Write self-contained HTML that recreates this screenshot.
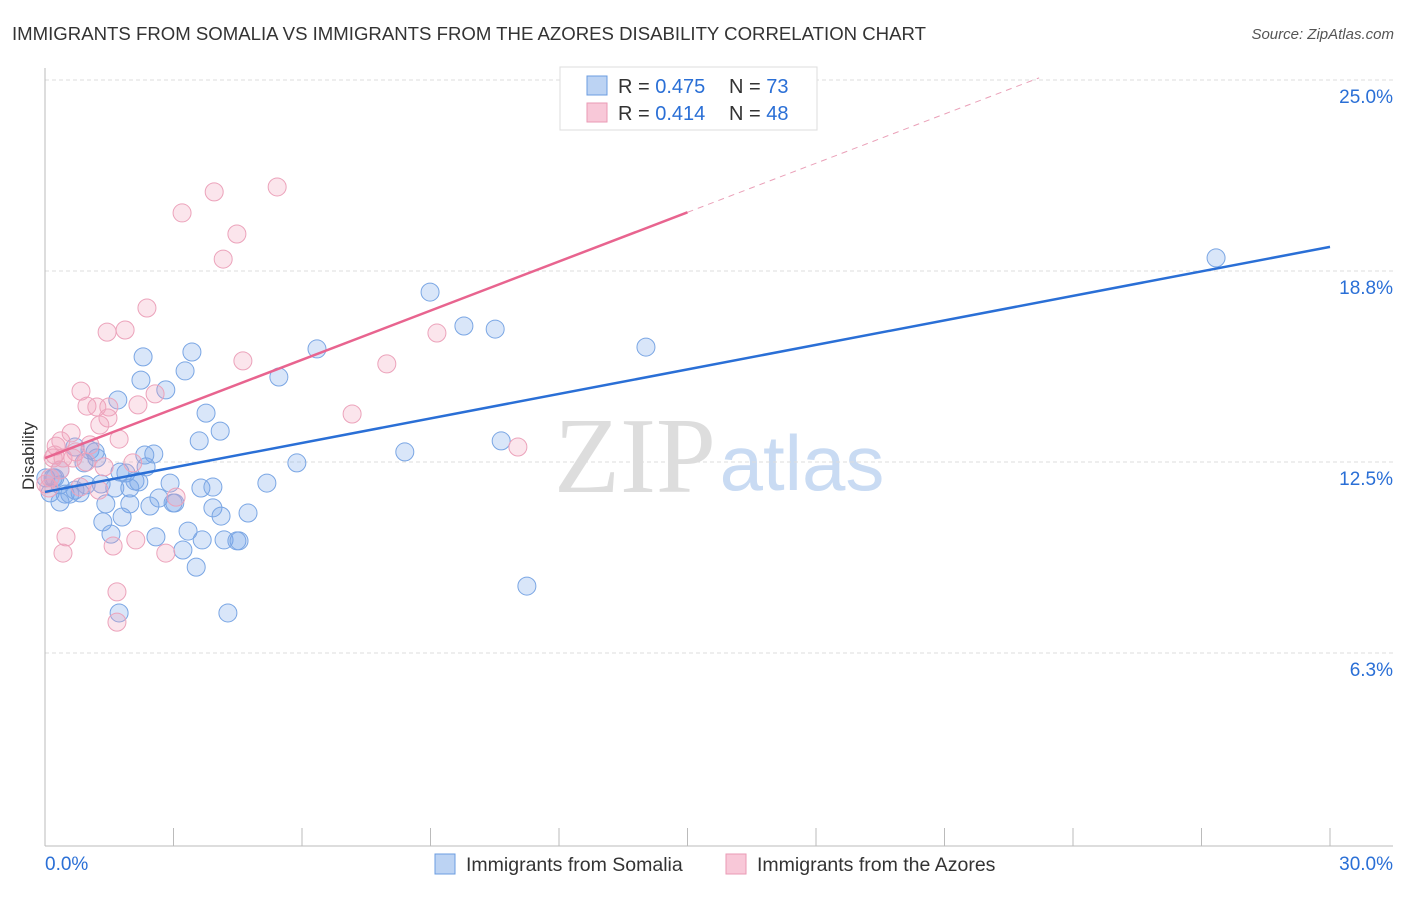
<!DOCTYPE html>
<html><head><meta charset="utf-8">
<style>
body{margin:0;background:#fff;font-family:"Liberation Sans",sans-serif;}
svg text{font-family:"Liberation Sans",sans-serif;}
</style></head>
<body>
<svg id="chart" width="1406" height="892" xmlns="http://www.w3.org/2000/svg">
<text x="12" y="40" font-size="18.6" fill="#333">IMMIGRANTS FROM SOMALIA VS IMMIGRANTS FROM THE AZORES DISABILITY CORRELATION CHART</text>
<text x="1394" y="39" font-size="15" fill="#555" text-anchor="end" font-style="italic">Source: ZipAtlas.com</text>
<text x="635" y="492" font-size="108" fill="#ddd" text-anchor="middle" style="font-family:'Liberation Serif',serif">ZIP</text>
<text x="802" y="490" font-size="78" fill="#c9dbf3" text-anchor="middle">atlas</text>
<g id="grid"></g>
<g id="axes"></g>
<g id="pts"></g>
<g id="trend"></g>
<text x="34" y="456" font-size="17" fill="#333" text-anchor="middle" transform="rotate(-90 34 456)">Disability</text>
<g>
<rect x="560" y="67" width="257" height="63" fill="#fff" stroke="#ddd"/>
<rect x="587" y="76" width="20" height="19" fill="#bcd3f3" stroke="#6b9de0"/>
<rect x="587" y="103" width="20" height="19" fill="#f8c8d8" stroke="#ea9ab5"/>
<text x="618" y="93" font-size="20" fill="#333">R = <tspan fill="#2a6fd6">0.475</tspan></text>
<text x="729" y="93" font-size="20" fill="#333">N = <tspan fill="#2a6fd6">73</tspan></text>
<text x="618" y="120" font-size="20" fill="#333">R = <tspan fill="#2a6fd6"> 0.414</tspan></text>
<text x="729" y="120" font-size="20" fill="#333">N = <tspan fill="#2a6fd6">48</tspan></text>
</g>
<g>
<rect x="435" y="854" width="20" height="20" fill="#bcd3f3" stroke="#6b9de0"/>
<text x="466" y="871" font-size="19.5" fill="#333">Immigrants from Somalia</text>
<rect x="726" y="854" width="20" height="20" fill="#f8c8d8" stroke="#ea9ab5"/>
<text x="757" y="871" font-size="19.5" fill="#333">Immigrants from the Azores</text>
</g>
</svg>
<script>
const yTicks=[25.0,18.8,12.5,6.3];
const yTickVals=[25,18.75,12.5,6.25];
const xTickLabels=["0.0%","30.0%"];
const blueX=[27.34,8.99,9.78,10.51,14.03,6.35,3.43,2.29,3.27,5.46,2.24,2.82,1.70,3.76,4.09,3.60,10.65,8.40,2.54,5.88,0.70,1.17,1.21,0.91,2.36,1.89,5.18,2.92,2.10,2.19,1.31,0.96,0.19,0.35,1.63,1.98,3.64,3.92,2.66,3.03,0.47,0.58,0.82,0.12,0.35,1.42,1.98,2.45,2.99,3.92,4.74,4.11,1.80,1.35,3.34,1.54,2.59,3.67,4.18,4.48,4.53,3.22,3.53,11.25,1.73,4.27,0.02,0.23,0.70,0.35,1.05,1.75,2.33];
const blueY=[19.18,18.06,16.95,16.85,16.26,16.20,16.10,15.94,15.48,15.28,15.18,14.86,14.53,14.10,13.51,13.19,13.19,12.83,12.76,12.47,12.99,12.83,12.63,12.47,12.34,12.14,11.81,11.81,11.88,11.85,11.78,11.75,11.98,11.75,11.65,11.65,11.65,11.68,11.32,11.16,11.45,11.45,11.49,11.49,11.19,11.13,11.13,11.06,11.16,11.00,10.83,10.73,10.70,10.54,10.24,10.14,10.05,9.95,9.95,9.92,9.92,9.62,9.06,8.44,7.56,7.56,11.98,11.98,11.58,12.24,12.89,12.17,12.73];
const pinkX=[5.42,3.95,3.20,4.48,4.16,2.38,1.45,1.87,9.15,4.62,7.98,0.84,2.57,0.98,1.21,1.49,2.17,1.47,1.28,7.17,0.61,0.37,0.26,1.73,11.04,0.72,0.19,0.42,0.65,0.96,2.05,1.38,0.35,0.12,0.02,3.06,0.82,1.26,0.49,0.42,1.59,2.12,2.82,1.68,1.68,0.09,0.23,1.05];
const pinkY=[21.50,21.34,20.65,19.96,19.14,17.54,16.75,16.82,16.72,15.81,15.71,14.82,14.73,14.33,14.30,14.30,14.37,13.94,13.71,14.07,13.45,13.19,13.02,13.25,12.99,12.83,12.63,12.63,12.63,12.50,12.47,12.34,12.24,11.98,11.78,11.35,11.68,11.58,10.05,9.52,9.75,9.95,9.52,8.25,7.26,11.65,12.73,13.06];
const blueTrend=[11.52,19.54];
const pinkTrend=[12.63,28.71];
const NS="http://www.w3.org/2000/svg";
const sx=v=>45+v/30*1285;
const sy=v=>844-v/6.25*191;
function mk(tag,attrs,parent){const e=document.createElementNS(NS,tag);for(const k in attrs)e.setAttribute(k,attrs[k]);document.getElementById(parent).appendChild(e);return e;}
yTickVals.forEach((v,i)=>{
 const g=mk('line',{x1:45,x2:1393,y1:sy(v),y2:sy(v),stroke:'#ddd','stroke-dasharray':'4,3'},'grid');
 
 
 const t=mk('text',{x:1393,y:sy(v)+23,'font-size':19,fill:'#2a6fd6','text-anchor':'end'},'grid');
 t.textContent=yTicks[i].toFixed(1)+'%';
 
 
});
const ax=mk('line',{x1:45,x2:45,y1:68,y2:846,stroke:'#bbb'},'axes');


const bx=mk('line',{x1:45,x2:1393,y1:846,y2:846,stroke:'#bbb'},'axes');


for(let i=1;i<=10;i++){
 const l=mk('line',{x1:sx(i*3),x2:sx(i*3),y1:828,y2:846,stroke:'#bbb'},'axes');
 
 
}
[[0,'start',45],[30,'end',1393]].forEach((a,i)=>{
 const t=mk('text',{x:a[2],y:870,'font-size':19,fill:'#2a6fd6','text-anchor':a[1]},'axes');
 t.textContent=xTickLabels[i];
 
 
});
function pts(X,Y,fill,stroke,name){
 X.forEach((x,i)=>{
  const c=mk('circle',{cx:sx(x),cy:sy(Y[i]),r:9,fill:fill,stroke:stroke,'stroke-width':1},'pts');
  
  
 });
}
pts(blueX,blueY,'rgba(120,165,232,0.28)','#7aa6e4','somalia-point');
pts(pinkX,pinkY,'rgba(242,160,188,0.28)','#eca3bb','azores-point');
const bl=mk('line',{x1:sx(0),y1:sy(blueTrend[0]),x2:sx(30),y2:sy(blueTrend[1]),stroke:'#2a6fd6','stroke-width':2.5},'trend');


const slope=(pinkTrend[1]-pinkTrend[0])/30;
const xs=15.0, xe=(25.07-pinkTrend[0])/slope;
const pl=mk('line',{x1:sx(0),y1:sy(pinkTrend[0]),x2:sx(xs),y2:sy(pinkTrend[0]+slope*xs),stroke:'#e8648f','stroke-width':2.5},'trend');


const pd=mk('line',{x1:sx(xs),y1:sy(pinkTrend[0]+slope*xs),x2:sx(xe),y2:sy(pinkTrend[0]+slope*xe),stroke:'#eaa0b8','stroke-width':1,'stroke-dasharray':'6,5'},'trend');


</script>
</body></html>
